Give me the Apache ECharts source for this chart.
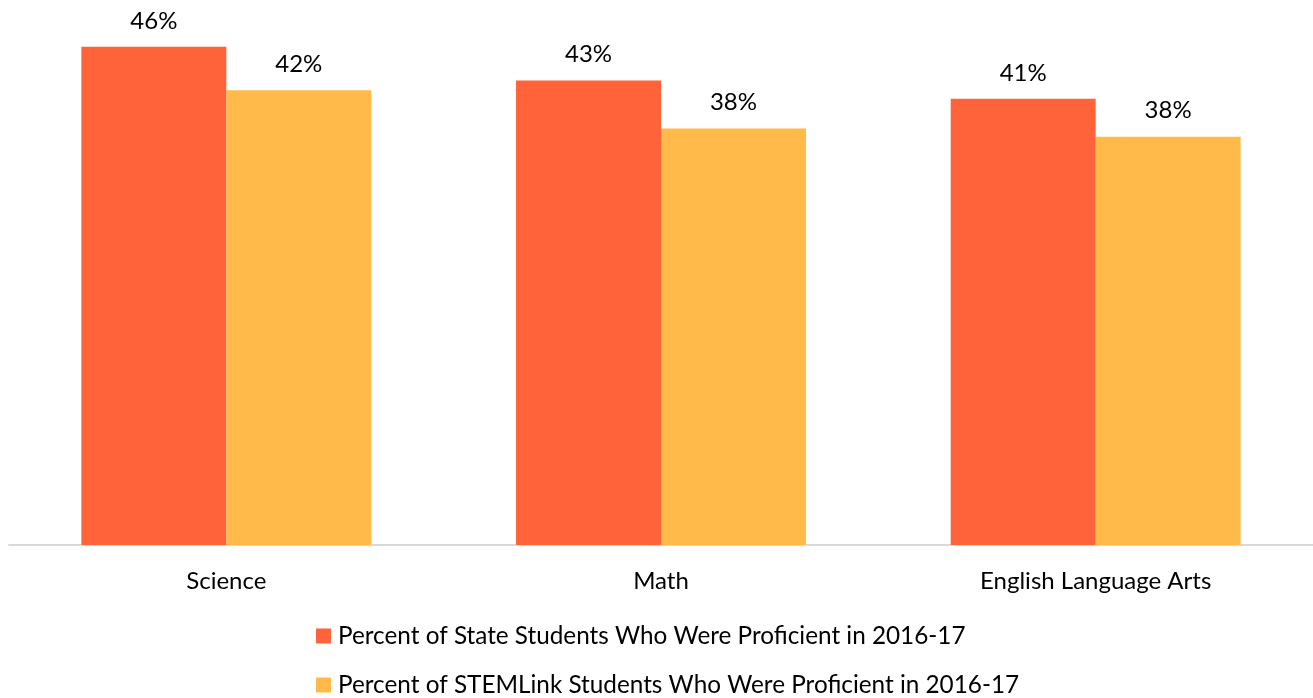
<!DOCTYPE html>
<html>
<head>
<meta charset="utf-8">
<script src="https://cdn.jsdelivr.net/npm/echarts@6/dist/echarts.min.js"></script>
<style>html,body{margin:0;padding:0;background:#fff;}#c{width:1313px;height:698px;}</style>
</head>
<body>
<div id="c"></div>
<script>
const categories = ['Science', 'Math', 'English Language Arts'];
const stateValues = [46.0, 42.9, 41.2];
const stemlinkValues = [42.0, 38.45, 37.7];
const seriesNames = ['Percent of State Students Who Were Proficient in 2016-17', 'Percent of STEMLink Students Who Were Proficient in 2016-17'];

const FONT = 'Lato';
const chart = echarts.init(document.getElementById('c'));
const labelCfg = {
  show: true, position: 'top', distance: 14,
  fontFamily: FONT, fontSize: 24, color: '#000',
  formatter: p => Math.round(p.value) + '%'
};
function legendRow(name, top) {
  return {
    left: 316, top: top, padding: 0,
    itemWidth: 15, itemHeight: 15, itemGap: 0,
    icon: 'rect',
    textStyle: { fontFamily: FONT, fontSize: 24.3, color: '#000', lineHeight: 26, padding: [0, 0, 0, 2] },
    data: [name]
  };
}
chart.setOption({
  animation: false,
  grid: { left: 9, right: 0, top: 3.5, bottom: 153, containLabel: false },
  legend: [legendRow(seriesNames[0], 623), legendRow(seriesNames[1], 672)],
  xAxis: {
    type: 'category', data: categories,
    axisLine: { lineStyle: { color: '#D9D9D9', width: 2 } },
    axisTick: { show: false },
    axisLabel: { fontFamily: FONT, fontSize: 24, color: '#000', margin: 24 }
  },
  yAxis: { type: 'value', min: 0, max: 50, show: false, splitLine: { show: false } },
  series: [
    { name: seriesNames[0], type: 'bar', data: stateValues, barGap: '0%', barCategoryGap: '33.3%',
      itemStyle: { color: '#FF6339' }, label: labelCfg },
    { name: seriesNames[1], type: 'bar', data: stemlinkValues,
      itemStyle: { color: '#FFBA49' }, label: labelCfg }
  ]
});
</script>
</body>
</html>
